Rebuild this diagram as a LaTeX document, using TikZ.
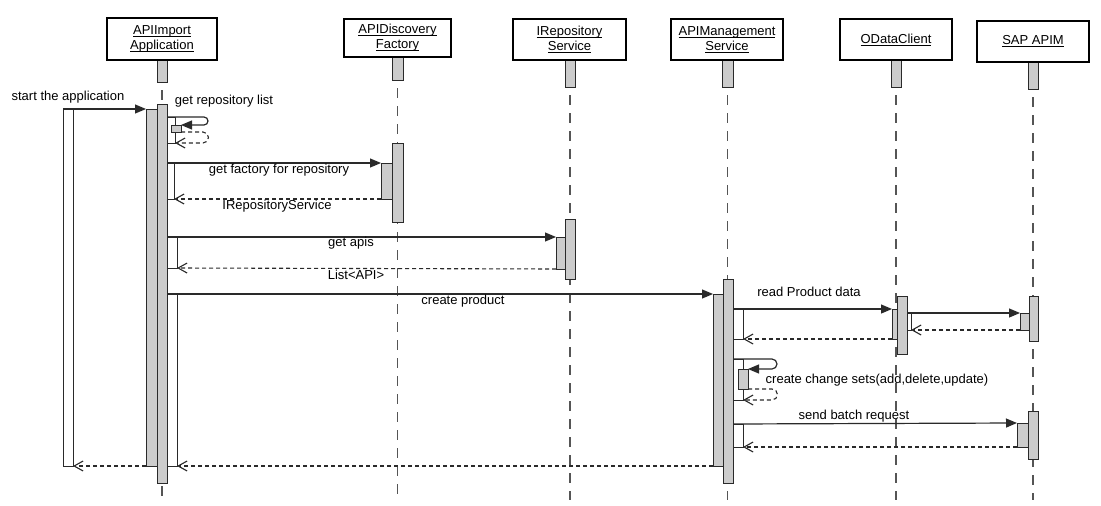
\documentclass[tikz,border=0pt]{standalone}
\usepackage{fontspec}
\setmainfont{Liberation Sans}
\usetikzlibrary{arrows.meta,backgrounds}
\definecolor{ln}{HTML}{2A2A2A}
\definecolor{barfill}{HTML}{CCCCCC}
\newcommand\ulx[1]{\setbox0\hbox{#1}\rlap{\rule[-2.4pt]{\wd0}{0.9pt}}\box0}
\newcommand\actbox[6]{\node[#1, anchor=north west, minimum width={#5pt-#3pt}, minimum height={#6pt-#4pt}] (#2) at (#3,#4) {};}
\tikzset{
 head/.style={draw=black, line width=1.8pt, fill=white, inner sep=0pt, outer sep=0pt, align=center, font=\fontsize{13}{15}\selectfont},
 gbar/.style={draw=ln, line width=1pt, fill=barfill, inner sep=0pt, outer sep=0pt},
 wbar/.style={draw=ln, line width=1pt, fill=white, inner sep=0pt, outer sep=0pt},
 life/.style={draw=ln!80, line width=1.4pt, dash pattern=on 10pt off 8pt, dash phase=10pt},
 call/.style={draw=ln, line width=1.2pt, -{Triangle[length=11pt,width=9pt]}},
 ret/.style={draw=ln, line width=1.1pt, dash pattern=on 4pt off 3pt, -{Straight Barb[length=9pt,width=10pt]}},
 lbl/.style={font=\fontsize{13}{15}\selectfont, inner sep=0pt, text=black, text height=9.5pt, text depth=2.7pt},
}
\begin{document}
\begin{tikzpicture}[x=1pt,y=-1pt]
\useasboundingbox (0,0) rectangle (1101,506);
\coordinate (lend) at (0,500);
% header bars
\actbox{gbar}{hAb}{157}{60}{167}{82}
\actbox{gbar}{hBb}{392}{57}{403}{80}
\actbox{gbar}{hCb}{565}{60}{575}{87}
\actbox{gbar}{hDb}{722}{60}{733}{87}
\actbox{gbar}{hEb}{891}{60}{901}{87}
\actbox{gbar}{hFb}{1028}{62}{1038}{89}
% header boxes
\node[head, anchor=north west, minimum width=110pt, minimum height=42pt] (hA) at (107,18) {\ulx{APIImport}\\\ulx{Application}};
\node[head, anchor=north west, minimum width=107pt, minimum height=38pt] (hB) at (344,19) {\ulx{APIDiscovery}\\\ulx{Factory}};
\node[head, anchor=north west, minimum width=113pt, minimum height=41pt] (hC) at (513,19) {\ulx{IRepository}\\\ulx{Service}};
\node[head, anchor=north west, minimum width=112pt, minimum height=41pt] (hD) at (671,19) {\ulx{APIManagement}\\\ulx{Service}};
\node[head, anchor=north west, minimum width=112pt, minimum height=41pt] (hE) at (840,19) {\ulx{ODataClient}};
\node[head, anchor=north west, minimum width=112pt, minimum height=41pt] (hF) at (977,21) {\ulx{SAP APIM}};
% lifelines
\begin{scope}[on background layer]
\foreach \b in {hAb,hBb,hCb,hDb,hEb,hFb}
  \draw[life] (\b.south) -- (\b.south |- lend);
\end{scope}
% APIImport bars
\actbox{wbar}{s0}{63}{109}{73}{466}
\actbox{gbar}{a2}{146}{109}{157}{466}
\actbox{gbar}{a1}{157}{104}{167}{483}
\actbox{wbar}{w1}{167}{117}{175}{143}
\actbox{gbar}{ab}{171}{125}{181}{132}
\actbox{wbar}{w2}{167}{163}{174}{199}
\actbox{wbar}{w3}{167}{237}{177}{268}
\actbox{wbar}{w4}{167}{294}{177}{466}
% APIDiscovery
\actbox{gbar}{b1}{392}{143}{403}{222}
\actbox{gbar}{b2}{381}{163}{392}{199}
% IRepository
\actbox{gbar}{c1}{565}{219}{575}{279}
\actbox{gbar}{c2}{556}{237}{565}{269}
% APIManagement
\actbox{gbar}{d1}{723}{279}{733}{483}
\actbox{gbar}{d2}{713}{294}{723}{466}
\actbox{wbar}{dw1}{733}{309}{743}{339}
\actbox{wbar}{dw2}{733}{359}{743}{400}
\actbox{gbar}{ds}{738}{369}{748}{389}
\actbox{wbar}{dw3}{733}{424}{743}{447}
% OData
\actbox{gbar}{e2}{892}{309}{902}{339}
\actbox{gbar}{e1}{897}{296}{907}{354}
\actbox{wbar}{ew}{907}{313}{911}{330}
% SAP APIM
\actbox{gbar}{f1}{1029}{296}{1038}{341}
\actbox{gbar}{f2}{1020}{313}{1029}{330}
\actbox{gbar}{f3}{1028}{411}{1038}{459}
\actbox{gbar}{f4}{1017}{423}{1028}{447}
% messages
\draw[call] (s0.north west) -- (a2.north west);
\draw[call] (w1.north west) -- ++(37,0) arc[start angle=-90,end angle=90,radius=4] -- (ab.north east);
\draw[ret] (ab.south east) -- ++(22,0) arc[start angle=-90,end angle=90,radius=5.5] -- (w1.south east);
\draw[call] (w2.north west) -- (b2.north west);
\draw[ret] (b2.south west) -- (w2.south east);
\draw[call] (w3.north west) -- (c2.north west);
\draw[ret] (c2.south west) -- (w3.south east);
\draw[call] (w4.north west) -- (d2.north west);
\draw[call] (dw1.north west) -- (e2.north west);
\draw[call] (ew.north west) -- (f2.north west);
\draw[ret] (f2.south west) -- (ew.south east);
\draw[ret] (e2.south west) -- (dw1.south east);
\draw[call] (dw2.north west) -- ++(39,0) arc[start angle=-90,end angle=90,radius=5] -- (ds.north east);
\draw[ret] (ds.south east) -- ++(24,0) arc[start angle=-90,end angle=90,radius=5.5] -- (dw2.south east);
\draw[call] (dw3.north west) -- (f4.north west);
\draw[ret] (f4.south west) -- (dw3.south east);
\draw[ret] (d2.south west) -- (w4.south east);
\draw[ret] (a2.south west) -- (s0.south east);
% labels
\node[lbl] (t1) at (68,97) {start the application};
\node[lbl] (t2) at (224,101) {get repository list};
\node[lbl] (t3) at (279,170) {get factory for repository};
\node[lbl] (t4) at (277,206) {IRepositoryService};
\node[lbl] (t5) at (351,243) {get apis};
\node[lbl] (t6) at (356,276) {List<API>};
\node[lbl] (t7) at (463,301) {create product};
\node[lbl] (t8) at (809,293) {read Product data};
\node[lbl] (t9) at (877,380) {create change sets(add,delete,update)};
\node[lbl] (t10) at (854,416) {send batch request};
\end{tikzpicture}
\end{document}
